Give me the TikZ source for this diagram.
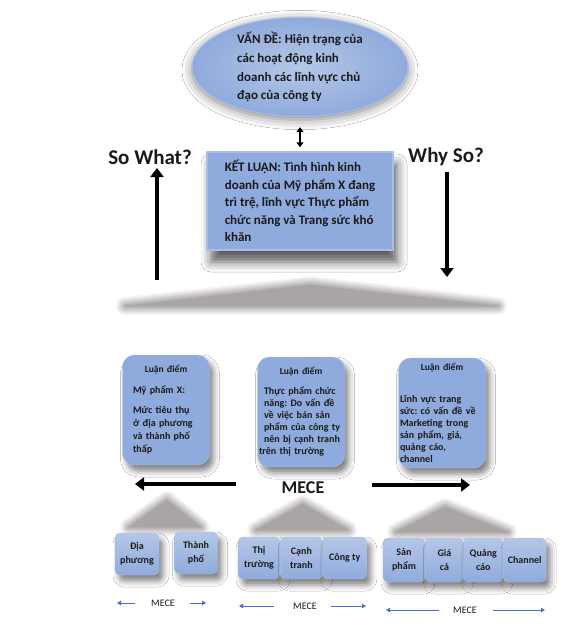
\documentclass[tikz,border=0pt]{standalone}
\usepackage{fontspec}
\setmainfont{Carlito}
\frenchspacing
\usetikzlibrary{arrows.meta,positioning,shapes.geometric,shadows.blur}

\definecolor{boxblue}{HTML}{8FAADC}
\definecolor{boxlight}{HTML}{B4C7E7}
\definecolor{boxedge}{HTML}{A9BEE6}
\definecolor{meceblue}{HTML}{4472C4}
\definecolor{inktext}{HTML}{1A1A1A}
\definecolor{hillgray}{HTML}{A9A5A4}

\begin{document}
\begin{tikzpicture}[
    x=1pt, y=-1pt,
    softshadow/.style={blur shadow={shadow xshift=4pt, shadow yshift=-6pt, shadow blur radius=6pt, shadow opacity=50}},
    problem/.style={ellipse, draw=boxedge, line width=1pt, inner color=boxlight, outer color=boxblue, minimum width=216pt, minimum height=92pt, inner sep=0pt, align=left, text=inktext, font=\fontsize{13}{18.8}\selectfont\bfseries, blur shadow={shadow xshift=0pt, shadow yshift=-3pt, shadow blur radius=10pt, shadow opacity=50}},
    conclusion/.style={rectangle, draw=boxedge, line width=1.5pt, fill=boxblue, minimum width=186pt, minimum height=98pt, inner sep=0pt, align=left, text=inktext, font=\fontsize{13}{17.5}\selectfont\bfseries, blur shadow={shadow xshift=4pt, shadow yshift=-12pt, shadow blur radius=10pt, shadow opacity=65}},
    point/.style={rectangle, rounded corners=12pt, draw=boxedge, fill=boxblue, minimum width=87pt, minimum height=110pt, inner sep=0pt, align=left, text=inktext, font=\fontsize{10}{12}\selectfont\bfseries, softshadow},
    sub/.style={rectangle, rounded corners=5pt, draw=boxedge, top color=boxlight, bottom color=boxblue, minimum height=42pt, inner sep=0pt, align=center, text=inktext, font=\fontsize{10}{14}\selectfont\bfseries, softshadow},
    question/.style={font=\fontsize{21}{25}\selectfont\bfseries, text=inktext},
    bigarrow/.style={line width=4pt, -{Triangle[length=9pt, width=13pt]}},
    dblarrow/.style={line width=2pt, {Triangle[length=5pt, width=7pt]}-{Triangle[length=5pt, width=7pt]}},
    mecearrow/.style={line width=1pt, meceblue, -{Triangle[length=4pt, width=4.5pt]}},
]
\path[use as bounding box, fill=white] (0,0) rectangle (573,642);

% grey hills behind the rows, soft edge from stacked outlines
\foreach \w/\g in {18/10, 15/25, 12/40, 9/55, 6/70, 3/85, 0.1/100} {
  \filldraw[hillgray!\g!white, line width=\w pt, line join=round]
    (125,306) -- (310,285) -- (498,306) -- cycle;
  \filldraw[hillgray!\g!white, line width=\w pt, line join=round]
    (129,527) -- (167,500) -- (201,527) -- cycle;
  \filldraw[hillgray!\g!white, line width=\w pt, line join=round]
    (256,530) -- (303,504) -- (348,530) -- cycle;
  \filldraw[hillgray!\g!white, line width=\w pt, line join=round]
    (396,532) -- (445,507) -- (508,532) -- cycle;
}

% top: problem and conclusion
\node[problem] (vande) at (300,67) {VẤN ĐỀ: Hiện trạng của\\các hoạt động kinh\\doanh các lĩnh vực chủ\\đạo của công ty};
\node[conclusion] (ketluan) at (300,201) {KẾT LUẬN: Tình hình kinh\\doanh của Mỹ phẩm X đang\\trì trệ, lĩnh vực Thực phẩm\\chức năng và Trang sức khó\\khăn};
\draw[dblarrow, shorten <=10pt, shorten >=4pt] (vande) -- (ketluan);

\node[question] (sowhat) at (150,157) {So What?};
\node[question] (whyso) at (446,157) {Why So?};
\coordinate (swbase) at (157,280);
\coordinate (swtop) at (157,168);
\coordinate (wsbase) at (447,277);
\coordinate (wstop) at (447,172);
\draw[bigarrow] (swbase) -- (swtop);
\draw[bigarrow] (wstop) -- (wsbase);

% middle: arguments
\node[point, text width=66pt, font=\fontsize{10}{13}\selectfont\bfseries] (ld1) at (166,410) {{\fontsize{9.5}{12}\selectfont\centering Luận điểm\par}\vspace{8pt}Mỹ phẩm X:\par\vspace{7pt}Mức tiêu thụ\\ở địa phương\\và thành phố\\thấp};
\node[point, text width=84pt] (ld2) at (301,412) {\leftskip=5pt{\fontsize{9.5}{12}\selectfont\centering Luận điểm\par}\vspace{8pt}Thực phẩm chức\\năng: Do vấn đề\\về việc bán sản\\phẩm của công ty\\nên bị cạnh tranh\\trên thị trường};
\node[point, text width=84pt] (ld3) at (442,413) {{\fontsize{9.5}{12}\selectfont\centering Luận điểm\par}\vspace{20pt}Lĩnh vực trang\\sức: có vấn đề về\\Marketing trong\\sản phẩm, giá,\\quảng cáo,\\channel};

\node[font=\fontsize{18}{22}\selectfont\bfseries, text=inktext] (mece) at (303,488) {MECE};
\coordinate (meceL) at (135,484);
\coordinate (meceR) at (470,485);
\draw[bigarrow, shorten <=42pt] ([yshift=4pt]mece.west) -- (meceL);
\draw[bigarrow, shorten <=44pt] ([yshift=3pt]mece.east) -- (meceR);

% bottom: sub-points
\node[sub, minimum width=44pt] (diaphuong) at (137,554) {Địa\\phương};
\node[sub, minimum width=43pt] (thanhpho) at (196,553) {Thành\\phố};
\node[sub, minimum width=42pt] (thitruong) at (259,558) {Thị\\trường};
\node[sub, minimum width=42pt, right=0pt of thitruong] (canhtranh) {Cạnh\\tranh};
\node[sub, minimum width=44pt, right=0pt of canhtranh] (congty) {Công ty};
\node[sub, minimum width=42pt, minimum height=44pt] (sanpham) at (404,560) {Sản\\phẩm};
\node[sub, minimum width=38pt, minimum height=44pt, right=0pt of sanpham] (giaca) {Giá\\cả};
\node[sub, minimum width=39pt, minimum height=44pt, right=0pt of giaca] (quangcao) {Quảng\\cáo};
\node[sub, minimum width=43pt, minimum height=44pt, right=0pt of quangcao] (channel) {Channel};

% small MECE labels
\node[font=\fontsize{10}{12}\selectfont, text=inktext] (mece1) at (163,603) {MECE};
\node[font=\fontsize{10}{12}\selectfont, text=inktext] (mece2) at (305,606) {MECE};
\node[font=\fontsize{10}{12}\selectfont, text=inktext] (mece3) at (465,610) {MECE};
\coordinate (mece1L) at (117,603);
\coordinate (mece1R) at (206,603);
\coordinate (mece2L) at (239,606);
\coordinate (mece2R) at (366,606);
\coordinate (mece3L) at (386,610);
\coordinate (mece3R) at (545,610);
\draw[mecearrow, shorten <=13pt] (mece1.west) -- (mece1L);
\draw[mecearrow, shorten <=12pt] (mece1.east) -- (mece1R);
\draw[mecearrow, shorten <=16pt] (mece2.west) -- (mece2L);
\draw[mecearrow, shorten <=11pt] (mece2.east) -- (mece2R);
\draw[mecearrow, shorten <=11pt] (mece3.west) -- (mece3L);
\draw[mecearrow, shorten <=13pt] (mece3.east) -- (mece3R);
\end{tikzpicture}
\end{document}
